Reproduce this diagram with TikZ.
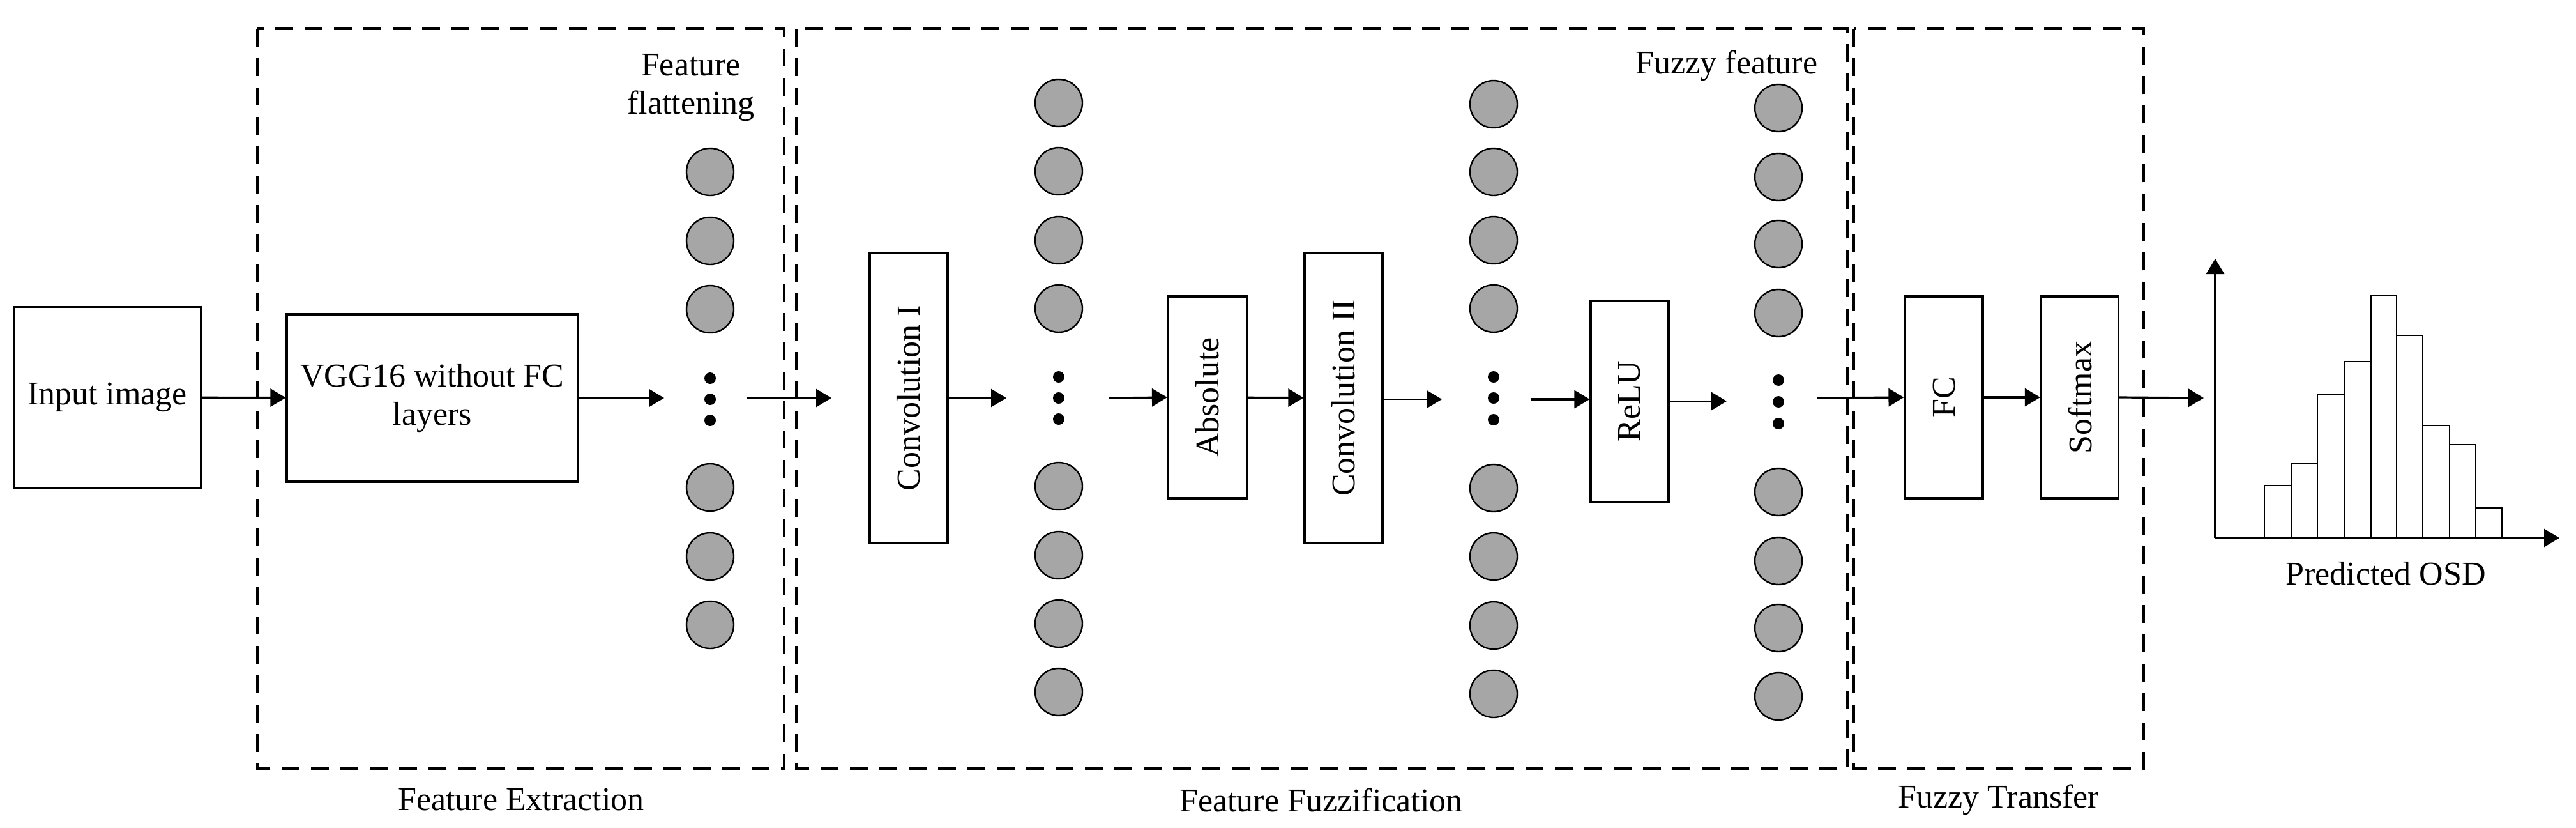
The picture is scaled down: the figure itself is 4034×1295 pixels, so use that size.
\documentclass[tikz,border=0pt]{standalone}
\usepackage{fontspec}
\setmainfont{Liberation Serif}
\usetikzlibrary{arrows.meta}
\begin{document}
\begin{tikzpicture}[x=0.25pt,y=-0.25pt,
  box/.style={draw,line width=0.8pt,inner sep=0pt,font=\fontsize{13}{15}\selectfont},
  grp/.style={draw,line width=0.8pt,dash pattern=on 7pt off 4.5pt},
  neu/.style={circle,draw,line width=0.6pt,fill=gray!70,minimum size=18.5pt,inner sep=0pt},
  dot/.style={circle,fill=black,minimum size=4.5pt,inner sep=0pt},
  arr/.style={line width=0.8pt,-{Triangle[length=6pt,width=7pt]}},
  lab/.style={font=\fontsize{13}{15}\selectfont}]
\useasboundingbox (0,0) rectangle (4034,1295);
% groups
\draw[grp] (403,45) rectangle (1228,1203);
\draw[grp] (1247,45) rectangle (2893,1203);
\draw[grp] (2903,45) rectangle (3357,1203);
\node[lab] (l1) at (816,1252) {Feature Extraction};
\node[lab] (l2) at (2069,1252) {Feature Fuzzification};
\node[lab] (l3) at (3130,1252) {Fuzzy Transfer};
% boxes
\node[box,minimum width=73.25pt,minimum height=70.75pt] (in) at (168,622) {Input image};
\node[box,minimum width=114pt,minimum height=65.5pt,align=center] (vgg) at (677,623) {VGG16 without FC\\layers};
\node[box,minimum width=30.5pt,minimum height=113.25pt] (convA) at (1423,623) {\rotatebox{90}{Convolution I}};
\node[box,minimum width=30.75pt,minimum height=79pt] (ab) at (1891,622) {\rotatebox{90}{Absolute}};
\node[box,minimum width=30.5pt,minimum height=113.25pt] (convB) at (2104,623) {\rotatebox{90}{Convolution II}};
\node[box,minimum width=30.5pt,minimum height=78.75pt] (re) at (2552,628) {\rotatebox{90}{ReLU}};
\node[box,minimum width=30.5pt,minimum height=79pt] (fc) at (3044,622) {\rotatebox{90}{FC}};
\node[box,minimum width=30.25pt,minimum height=79pt] (sm) at (3257,622) {\rotatebox{90}{Softmax}};
% neuron columns
\foreach \n/\x/\ya/\yb/\yc/\yd/\ye/\yf/\yg/\yh/\da/\db/\dc in {
  na/1112/-100/269/377/484/763/871/978/-100/592/625/658,
  nb/1658/161/268/376/483/761/869/976/1083/590/623/656,
  nc/2339/163/269/376/483/764/871/979/1086/590/623/657,
  nd/2785/169/277/382/490/770/878/983/1090/595/629/663}{
  \foreach \k/\y in {1/\ya,2/\yb,3/\yc,4/\yd,5/\ye,6/\yf,7/\yg,8/\yh}{
    \ifdim \y pt>0pt \node[neu] (\n-\k) at (\x,\y) {};\fi}
  \node[dot] (\n-d1) at (\x,\da) {};
  \node[dot] (\n-d2) at (\x,\db) {};
  \node[dot] (\n-d3) at (\x,\dc) {};
}
\node[lab,align=center] (ff) at (1082,137) {Feature\\flattening};
\node[lab] (fz) at (2704,103) {Fuzzy feature};
% arrow ends
\coordinate (pa0) at (1040,623); \coordinate (pa1) at (1170,623); \coordinate (pa2) at (1302,623);
\coordinate (pb0) at (1576,623); \coordinate (pb1) at (1737,623);
\coordinate (pc0) at (2258,625); \coordinate (pc1) at (2398,625);
\coordinate (pd0) at (2704,628); \coordinate (pd1) at (2845,623);
\coordinate (osd) at (3451,623);
\draw[arr] (in) -- (vgg);
\draw[arr] (vgg.east) -- (pa0);
\draw[arr] (pa1) -- (pa2);
\draw[arr] (convA.east) -- (pb0);
\draw[arr] (pb1) -- (ab.west);
\draw[arr] (ab) -- (convB);
\draw[arr,line width=0.6pt] (convB.east |- pc0) -- (pc0);
\draw[arr] (pc1) -- (re.west |- pc1);
\draw[arr,line width=0.6pt] (re.east |- pd0) -- (pd0);
\draw[arr] (pd1) -- (fc.west);
\draw[arr] (fc) -- (sm);
\draw[arr] (sm.east) -- (osd);
% histogram
\coordinate (o) at (3469,842);
\coordinate (yt) at (3469,405);
\coordinate (xe) at (4008,842);
\draw[arr] (o) -- (yt);
\draw[arr] (o) -- (xe);
\foreach \l/\r/\t in {3546/3588/760,3588/3629/725,3629/3671/618,3671/3713/566,3713/3753/462,3753/3794/525,3794/3836/666,3836/3877/696,3877/3918/795}
  \draw[line width=0.6pt] (\l,842) rectangle (\r,\t);
\node[lab] (osdl) at (3736,898) {Predicted OSD};
\end{tikzpicture}
\end{document}
